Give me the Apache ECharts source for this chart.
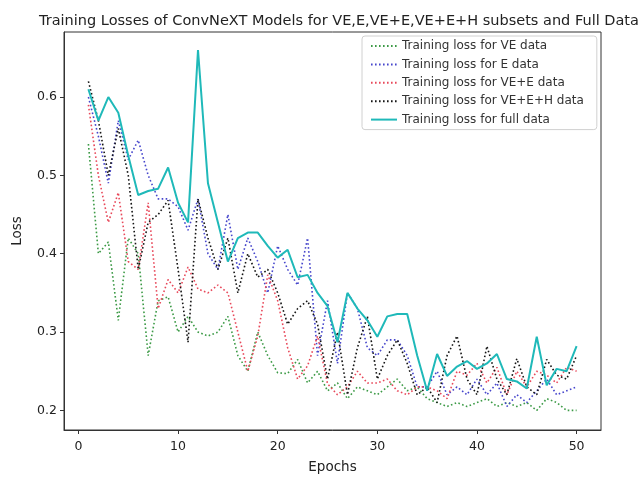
<!DOCTYPE html>
<html>
<head>
<meta charset="utf-8">
<script src="https://cdn.jsdelivr.net/npm/echarts@6/dist/echarts.min.js"></script>
<style>html,body{margin:0;padding:0;background:#fff}#c{width:644px;height:479px}</style>
</head>
<body>
<div id="c"></div>
<script>
const epochs = Array.from({length: 50}, (_, i) => i + 1);
const veLoss = [0.54,0.40,0.415,0.315,0.42,0.40,0.27,0.34,0.345,0.30,0.32,0.30,0.295,0.30,0.32,0.27,0.25,0.30,0.27,0.248,0.247,0.265,0.235,0.25,0.225,0.235,0.215,0.23,0.225,0.22,0.23,0.24,0.225,0.23,0.215,0.21,0.205,0.21,0.205,0.21,0.215,0.205,0.21,0.205,0.21,0.20,0.215,0.21,0.20,0.20];
const eLoss = [0.60,0.55,0.49,0.57,0.52,0.545,0.50,0.47,0.47,0.46,0.43,0.47,0.40,0.38,0.45,0.38,0.42,0.39,0.35,0.41,0.38,0.36,0.42,0.27,0.34,0.26,0.35,0.33,0.28,0.27,0.29,0.29,0.27,0.23,0.23,0.25,0.22,0.23,0.22,0.24,0.22,0.235,0.205,0.22,0.21,0.225,0.24,0.22,0.225,0.23];
const veeLoss = [0.59,0.50,0.44,0.478,0.39,0.38,0.465,0.33,0.367,0.35,0.383,0.355,0.35,0.36,0.35,0.30,0.25,0.295,0.373,0.34,0.28,0.24,0.257,0.295,0.234,0.22,0.23,0.25,0.235,0.235,0.24,0.225,0.22,0.23,0.23,0.225,0.215,0.25,0.245,0.26,0.235,0.255,0.22,0.25,0.23,0.25,0.245,0.235,0.255,0.25];
const veehLoss = [0.62,0.57,0.50,0.56,0.50,0.38,0.44,0.45,0.468,0.38,0.287,0.47,0.42,0.38,0.42,0.35,0.40,0.37,0.38,0.35,0.31,0.33,0.34,0.31,0.24,0.30,0.22,0.28,0.32,0.24,0.27,0.29,0.26,0.22,0.23,0.21,0.27,0.295,0.24,0.22,0.282,0.24,0.22,0.266,0.23,0.22,0.265,0.245,0.24,0.27];
const fullLoss = [0.61,0.57,0.60,0.58,0.525,0.475,0.48,0.483,0.51,0.465,0.44,0.66,0.49,0.44,0.39,0.42,0.427,0.427,0.41,0.395,0.405,0.37,0.373,0.35,0.333,0.287,0.35,0.33,0.315,0.294,0.32,0.323,0.323,0.27,0.225,0.272,0.244,0.256,0.263,0.253,0.26,0.272,0.24,0.237,0.228,0.294,0.232,0.253,0.25,0.282];
const xTicks = [0, 10, 20, 30, 40, 50];
const yTicks = [0.2, 0.3, 0.4, 0.5, 0.6];
const seriesNames = ['Training loss for VE data','Training loss for E data','Training loss for VE+E data','Training loss for VE+E+H data','Training loss for full data'];

const pairs = arr => epochs.map((e, i) => [e, arr[i]]);
const dotted = (name, arr, color) => ({
  name, type: 'line', data: pairs(arr), symbol: 'none',
  lineStyle: {color, width: 1.6, type: [1.6, 2.4]}, itemStyle: {color}
});

const chart = echarts.init(document.getElementById('c'));
chart.setOption({
  animation: false,
  textStyle: {fontFamily: 'DejaVu Sans'},
  title: {
    text: 'Training Losses of ConvNeXT Models for VE,E,VE+E,VE+E+H subsets and Full Data',
    left: 34, top: 9,
    textStyle: {fontSize: 14.5, fontWeight: 'normal', color: '#222', fontFamily: 'DejaVu Sans'}
  },
  grid: {left: 64, right: 43, top: 32, bottom: 47, show: true, borderColor: '#333', borderWidth: 1},
  legend: {
    orient: 'vertical', left: 362, top: 36,
    itemWidth: 26, itemHeight: 12, itemGap: 6.4,
    padding: [4, 13, 4, 8],
    borderColor: '#d0d0d0', borderWidth: 1, borderRadius: 3,
    backgroundColor: 'rgba(255,255,255,0.8)',
    itemStyle: {opacity: 0},
    textStyle: {fontSize: 12, color: '#333', fontFamily: 'DejaVu Sans'},
    data: seriesNames
  },
  xAxis: {
    type: 'value', min: -1.45, max: 52.45, name: 'Epochs',
    nameLocation: 'middle', nameGap: 30,
    nameTextStyle: {fontSize: 13.5, color: '#222'},
    axisLine: {show: true, onZero: false, lineStyle: {color: '#333'}},
    axisTick: {show: true, length: 4, lineStyle: {color: '#333'}, customValues: xTicks},
    axisLabel: {fontSize: 12.5, color: '#222', margin: 10, customValues: xTicks},
    splitLine: {show: false}
  },
  yAxis: {
    type: 'value', min: 0.175, max: 0.683, name: 'Loss',
    nameLocation: 'middle', nameGap: 40, nameRotate: 90,
    nameTextStyle: {fontSize: 13.5, color: '#222'},
    axisLine: {show: true, onZero: false, lineStyle: {color: '#333'}},
    axisTick: {show: true, length: 4, lineStyle: {color: '#333'}, customValues: yTicks},
    axisLabel: {fontSize: 12.5, color: '#222', margin: 7, customValues: yTicks, formatter: v => v.toFixed(1)},
    splitLine: {show: false}
  },
  series: [
    dotted(seriesNames[0], veLoss, '#3c9a46'),
    dotted(seriesNames[1], eLoss, '#4646cc'),
    dotted(seriesNames[2], veeLoss, '#e8485a'),
    dotted(seriesNames[3], veehLoss, '#151515'),
    {name: seriesNames[4], type: 'line', data: pairs(fullLoss), symbol: 'none',
     lineStyle: {color: '#1fb9b9', width: 2}, itemStyle: {color: '#1fb9b9'}}
  ]
});
</script>
</body>
</html>
